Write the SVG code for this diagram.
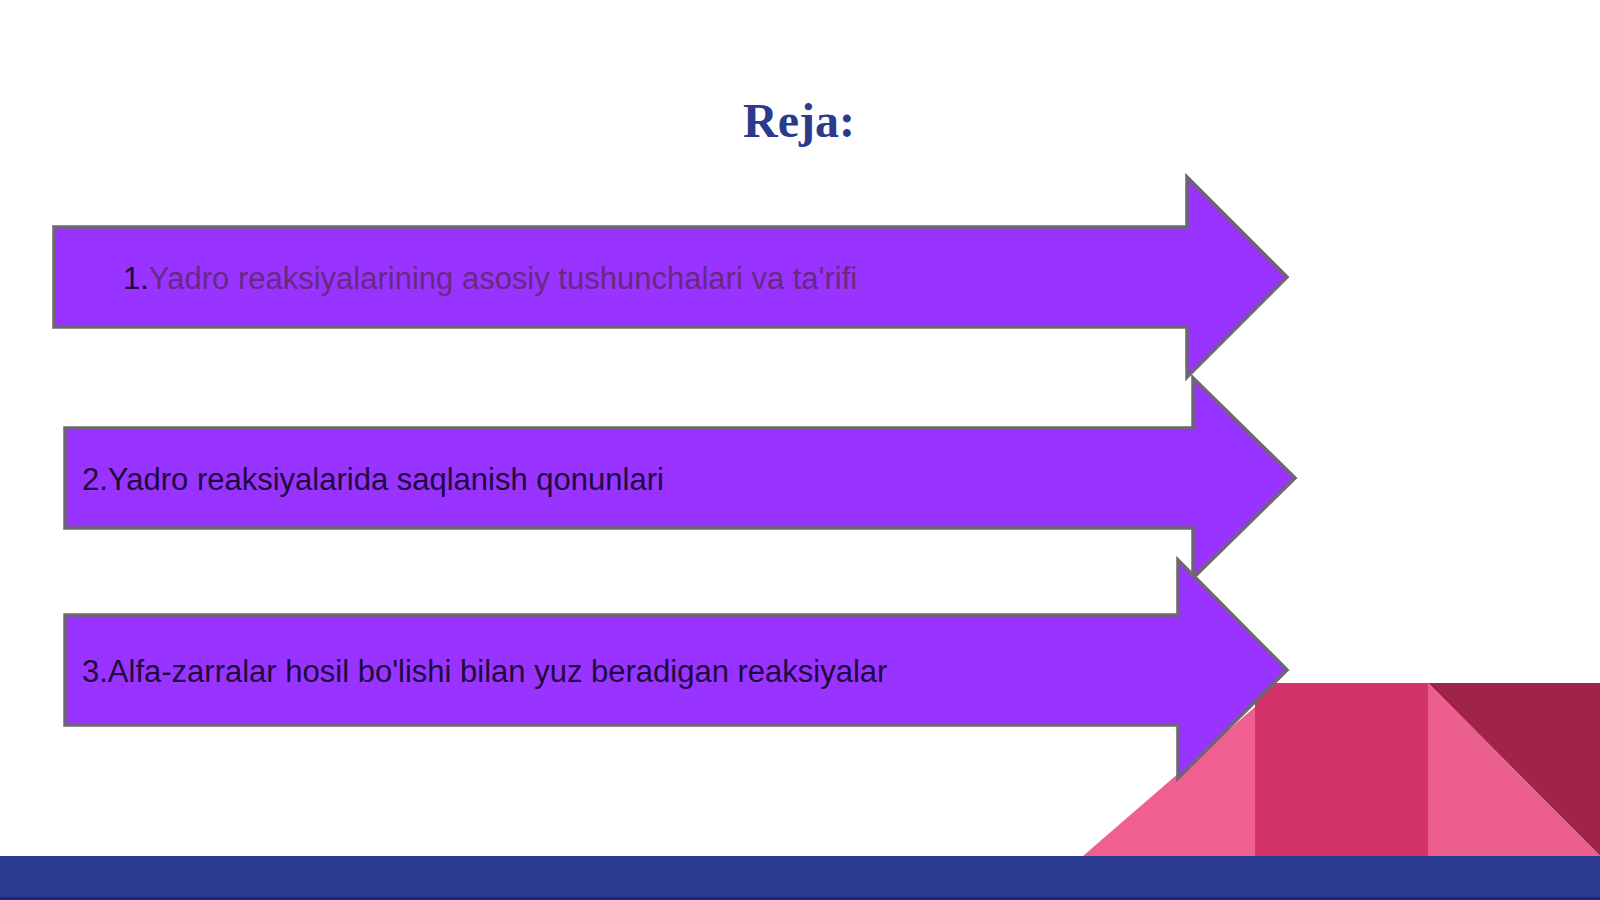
<svg xmlns="http://www.w3.org/2000/svg" width="1600" height="900" viewBox="0 0 1600 900">
<style>
.arrow{fill:#9933FF;stroke:#6E6670;stroke-width:3.5;stroke-linejoin:miter}
.lbl{font-family:"Liberation Sans",Arial,sans-serif;font-size:31px;fill:#1E0A3C}
.muted{fill:#682A80}
.title{font-family:"Liberation Serif","Times New Roman",serif;font-size:48px;font-weight:bold;fill:#2B3A8C}
</style>
<rect x="0" y="0" width="1600" height="900" fill="#FFFFFF"/>
<g id="decor">
<polygon points="1083,856 1255,707 1255,856" fill="#EF5F8F"/>
<rect x="1255" y="683" width="173" height="173" fill="#D3336A"/>
<polygon points="1428,683 1600,683 1600,856" fill="#A0244A"/>
<polygon points="1428,683 1600,856 1428,856" fill="#EC5F8C"/>
<rect x="0" y="856" width="1600" height="44" fill="#2B3B92"/>
<rect x="0" y="897" width="1600" height="3" fill="#1E2A6E"/>
</g>
<g id="title">
<text class="title" x="799" y="137" text-anchor="middle">Reja:</text>
</g>
<g id="connectors"></g>
<g id="node1">
<polygon class="arrow" points="54,227 1187,227 1187,177 1287,277 1187,377 1187,327 54,327"/>
<text class="lbl" x="123" y="289">1.<tspan class="muted">Yadro reaksiyalarining asosiy tushunchalari va ta'rifi</tspan></text>
</g>
<g id="node2">
<polygon class="arrow" points="65,428 1193,428 1193,378 1295,478 1193,578 1193,528 65,528"/>
<text class="lbl" x="82" y="490">2.Yadro reaksiyalarida saqlanish qonunlari</text>
</g>
<g id="node3">
<polygon class="arrow" points="65,615 1178,615 1178,560 1287,670 1178,778 1178,725 65,725"/>
<text class="lbl" x="82" y="682">3.Alfa-zarralar hosil bo'lishi bilan yuz beradigan reaksiyalar</text>
</g>
</svg>
